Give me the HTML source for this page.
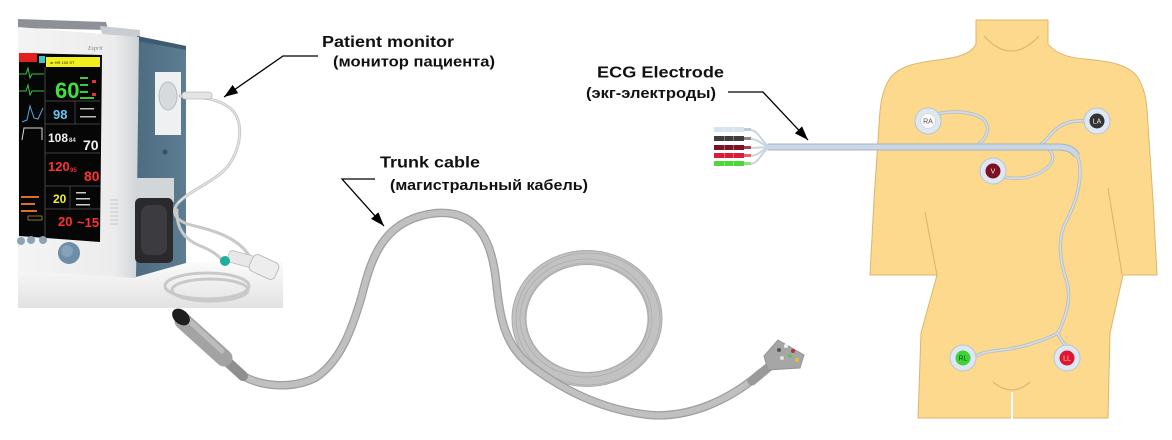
<!DOCTYPE html>
<html><head><meta charset="utf-8"><style>
html,body{margin:0;padding:0;background:#fff;}
svg{display:block;}
.lbl{font-family:"Liberation Sans",Arial,sans-serif;font-weight:bold;fill:#111;}
.scr{font-family:"Liberation Sans",Arial,sans-serif;font-weight:bold;}
.el{font-family:"Liberation Sans",Arial,sans-serif;font-size:7px;text-anchor:middle;}
</style></head><body>
<svg width="1172" height="440" viewBox="0 0 1172 440" xmlns="http://www.w3.org/2000/svg">
<defs>
<marker id="ah" viewBox="0 0 14 10" refX="14" refY="5" markerWidth="14" markerHeight="10" markerUnits="userSpaceOnUse" orient="auto"><path d="M0,0 L14,5 L0,10 Z" fill="#000"/></marker>
<linearGradient id="shad" x1="0" y1="0" x2="0" y2="1"><stop offset="0" stop-color="#fbfbfb"/><stop offset="1" stop-color="#e2e2e2"/></linearGradient>
<linearGradient id="bez" x1="0" y1="0" x2="1" y2="0"><stop offset="0" stop-color="#f4f4f4"/><stop offset="0.8" stop-color="#ececec"/><stop offset="1" stop-color="#cfd3d6"/></linearGradient>
<linearGradient id="side" x1="0" y1="0" x2="1" y2="0"><stop offset="0" stop-color="#4d6c82"/><stop offset="1" stop-color="#5d7d93"/></linearGradient>
</defs>
<rect width="1172" height="440" fill="#fff"/>

<!-- ===== Monitor photo ===== -->
<rect x="18" y="262" width="265" height="46" fill="url(#shad)"/>
<!-- handle -->
<polygon points="18,19 106,22 108,30 18,28" fill="#8d9197"/>
<polygon points="100,26 140,30 140,39 102,34" fill="#c9ccd0"/>
<!-- side panel -->
<polygon points="137,36 186,46 186,263 136,277" fill="url(#side)"/>
<polygon points="137,36 186,46 186,50 137,41" fill="#3f5b70"/>
<!-- front bezel -->
<polygon points="18,27 139,37 136,278 18,271" fill="url(#bez)"/>
<text x="88" y="50" font-family="Liberation Serif,serif" font-style="italic" font-size="6" fill="#888">Esprit</text>
<!-- screen -->
<polygon points="19,53 102,55 100,242 19,236" fill="#060606"/>
<rect x="19" y="53" width="18" height="9" fill="#e22020"/>
<rect x="39" y="56" width="6" height="7" fill="#3fc2c2"/>
<rect x="46" y="57" width="54" height="10" fill="#f2ef1e"/>
<text x="50" y="64" font-family="Liberation Sans,sans-serif" font-size="4" fill="#222">ar HR 100 ST</text>
<polyline points="19,74 26,74 28,68 30,78 32,74 44,74" fill="none" stroke="#38c838" stroke-width="1"/>
<polyline points="19,91 26,91 28,85 30,95 32,91 44,91" fill="none" stroke="#38c838" stroke-width="1"/>
<polyline points="22,122 27,120 30,106 34,118 38,119 43,108" fill="none" stroke="#58a8e8" stroke-width="1"/>
<polyline points="22,140 24,128 42,128 42,140" fill="none" stroke="#d8d8d8" stroke-width="1"/>
<line x1="45" y1="67" x2="45" y2="236" stroke="#555" stroke-width="0.8"/>
<g stroke="#555" stroke-width="0.7">
<line x1="45" y1="101" x2="100" y2="101"/><line x1="45" y1="124" x2="100" y2="124"/>
<line x1="45" y1="153" x2="100" y2="153"/><line x1="45" y1="186" x2="100" y2="186"/>
<line x1="45" y1="209" x2="100" y2="209"/><line x1="75" y1="101" x2="75" y2="124"/>
<line x1="70" y1="186" x2="70" y2="209"/>
</g>
<text class="scr" x="55" y="98" font-size="22" fill="#3ee23e">60</text>
<g fill="#3ec83e"><rect x="80" y="77" width="8" height="2"/><rect x="80" y="84" width="8" height="2"/><rect x="80" y="91" width="8" height="2"/><rect x="80" y="97" width="14" height="2"/></g>
<g fill="#e03030"><rect x="92" y="80" width="4" height="3"/><rect x="92" y="93" width="4" height="3"/></g>
<text class="scr" x="53" y="119" font-size="13" fill="#6cc4f4">98</text>
<g fill="#bbb"><rect x="80" y="108" width="14" height="1.5"/><rect x="80" y="116" width="16" height="1.5"/></g>
<text class="scr" x="48" y="142" font-size="12" fill="#f2f2f2">108</text>
<text class="scr" x="69" y="142" font-size="6" fill="#ddd">84</text>
<text class="scr" x="83" y="150" font-size="14" fill="#f2f2f2">70</text>
<text class="scr" x="48" y="171" font-size="13" fill="#ff3232">120</text>
<text class="scr" x="70" y="172" font-size="6" fill="#e03030">95</text>
<text class="scr" x="84" y="181" font-size="14" fill="#ff3232">80</text>
<text class="scr" x="53" y="203" font-size="12" fill="#f2ef38">20</text>
<g fill="#ccc"><rect x="76" y="192" width="10" height="1.5"/><rect x="76" y="198" width="14" height="1.5"/><rect x="76" y="204" width="14" height="1.5"/></g>
<text class="scr" x="58" y="226" font-size="13" fill="#ff3232">20</text>
<text class="scr" x="77" y="227" font-size="13" fill="#ff3232">~15</text>
<g fill="#d87030"><rect x="21" y="196" width="18" height="2"/><rect x="21" y="203" width="14" height="2"/><rect x="21" y="210" width="16" height="2"/></g>
<rect x="28" y="216" width="14" height="4" fill="none" stroke="#c0a030" stroke-width="0.7"/>
<!-- vents -->
<g stroke="#bbb" stroke-width="0.8"><line x1="110" y1="200" x2="118" y2="200"/><line x1="110" y1="204" x2="118" y2="204"/><line x1="110" y1="208" x2="118" y2="208"/><line x1="110" y1="212" x2="118" y2="212"/><line x1="110" y1="216" x2="118" y2="216"/><line x1="110" y1="220" x2="118" y2="220"/><line x1="110" y1="224" x2="118" y2="224"/></g>
<!-- buttons + knob -->
<circle cx="21" cy="241" r="4" fill="#8aa3b6"/><circle cx="31" cy="240" r="4" fill="#8aa3b6"/><circle cx="43" cy="240" r="4" fill="#8aa3b6"/>
<circle cx="69" cy="253" r="11" fill="#6f8ea6"/><circle cx="67" cy="251" r="6" fill="#86a2b8"/>
<!-- port -->
<rect x="155" y="72" width="26" height="63" fill="#eef0f2"/>
<ellipse cx="168" cy="96" rx="9" ry="14" fill="#d6dadd" stroke="#b8bcc0" stroke-width="1"/>
<circle cx="165" cy="152" r="2.5" fill="#3a4f60"/>
<!-- printer -->
<rect x="136" y="178" width="38" height="24" fill="#d3d6d9"/>
<rect x="135" y="198" width="38" height="65" rx="5" fill="#2a2a2d"/>
<rect x="141" y="205" width="26" height="50" rx="8" fill="#3c3c40"/>
<!-- tubes -->
<g fill="none" stroke="#c9c9c9" stroke-width="3" stroke-linecap="round">
<path d="M180,96 C200,97 222,98 234,112 C244,126 240,150 228,166 C215,182 190,190 178,203 C170,213 176,222 195,226 C220,232 240,240 250,257"/>
<path d="M177,210 C176,228 184,240 203,247 C212,251 218,255 222,260"/>
<ellipse cx="207" cy="286" rx="42" ry="13"/>
<ellipse cx="210" cy="290" rx="38" ry="11"/>
</g>
<g fill="none" stroke="#e8e8e8" stroke-width="1">
<path d="M180,96 C200,97 222,98 234,112 C244,126 240,150 228,166 C215,182 190,190 178,203"/>
</g>
<rect x="182" y="92" width="30" height="7" rx="3" fill="#e4e4e4" stroke="#bbb" stroke-width="0.8"/>
<rect x="228" y="253" width="26" height="12" rx="3" fill="#e8e8e8" stroke="#bbb" stroke-width="0.8" transform="rotate(15 241 259)"/>
<rect x="250" y="258" width="28" height="18" rx="5" fill="#ededed" stroke="#bcbcbc" stroke-width="1" transform="rotate(25 264 267)"/>
<circle cx="225" cy="261" r="5" fill="#20ad9e"/>

<!-- ===== Trunk cable ===== -->
<ellipse cx="587" cy="318.5" rx="68" ry="61" fill="none" stroke="#a9a9a9" stroke-width="15"/>
<ellipse cx="587" cy="318.5" rx="68" ry="61" fill="none" stroke="#c2c2c2" stroke-width="13"/>
<ellipse cx="588" cy="319" rx="72" ry="66" fill="none" stroke="#acacac" stroke-width="0.8"/>
<ellipse cx="586" cy="318" rx="66" ry="59" fill="none" stroke="#adadad" stroke-width="0.8"/>
<ellipse cx="587" cy="318" rx="62" ry="55" fill="none" stroke="#b0b0b0" stroke-width="0.8"/>
<path d="M240,374 C258,386 290,390 315,378 C340,362 352,330 362,295 C372,255 385,218 437,213 C480,210 492,245 496,280 C500,320 505,345 530,365 C560,388 600,410 650,415 C690,418 730,400 762,372" fill="none" stroke="#9f9f9f" stroke-width="8.5" stroke-linecap="round"/>
<path d="M240,374 C258,386 290,390 315,378 C340,362 352,330 362,295 C372,255 385,218 437,213 C480,210 492,245 496,280 C500,320 505,345 530,365 C560,388 600,410 650,415 C690,418 730,400 762,372" fill="none" stroke="#c0c0c0" stroke-width="6" stroke-linecap="round"/>
<!-- start connector -->
<path d="M220,355 L243,376" stroke="#8f8f8f" stroke-width="10" stroke-linecap="round"/>
<path d="M183,321 L224,358" stroke="#a3a3a3" stroke-width="17" stroke-linecap="round"/>
<path d="M185,317 L222,351" stroke="#bcbcbc" stroke-width="5" stroke-linecap="round"/>
<ellipse cx="181" cy="317" rx="10" ry="7" transform="rotate(40 181 317)" fill="#1e1e1e"/>
<!-- end connector -->
<path d="M752,381 L770,366" stroke="#9a9a9a" stroke-width="9" stroke-linecap="round"/>
<polygon points="778,340 804,355 800,368 768,370 764,356" fill="#a6a6a6" stroke="#949494" stroke-width="1"/>
<circle cx="779" cy="350" r="2" fill="#555"/><circle cx="786" cy="346" r="2" fill="#e8f4f0"/><circle cx="793" cy="351" r="2" fill="#c03030"/>
<circle cx="782" cy="358" r="2" fill="#e0e0e0"/><circle cx="790" cy="356" r="2" fill="#60c060"/><circle cx="797" cy="360" r="2" fill="#e0c030"/>

<!-- ===== Body ===== -->
<path d="M976,20 L1048,20 L1048,44 C1056,54 1070,58 1085,59 C1105,61 1125,63 1136,75 C1146,88 1147,105 1148,125 L1153,200 L1157,275 L1123,275 L1110,333 L1108,418 L918,418 L921,333 L937,275 L870,275 L874,200 L879,125 C880,105 882,90 890,78 C902,63 925,62 945,59 C960,57 972,53 976,44 Z" fill="#fcd98c" stroke="#dcb66a" stroke-width="1"/>
<path d="M984,36 Q1011,66 1039,36" fill="none" stroke="#d9b366" stroke-width="1"/>
<path d="M993,382 Q1012,398 1030,382" fill="none" stroke="#d9b366" stroke-width="1"/>
<line x1="1012" y1="392" x2="1012" y2="419" stroke="#fff" stroke-width="2"/>
<line x1="925" y1="212" x2="937" y2="275" stroke="#d9b366" stroke-width="1"/>
<line x1="1108" y1="188" x2="1122" y2="274" stroke="#d9b366" stroke-width="1"/>

<!-- ===== ECG lead set ===== -->
<g fill="none" stroke-linecap="round">
<path d="M750,130 C760,130 762,146 772,147" stroke="#c9d4de" stroke-width="2"/>
<path d="M750,139 C760,139 763,147 772,147" stroke="#c9d4de" stroke-width="2"/>
<path d="M750,148 L772,147" stroke="#c9d4de" stroke-width="2"/>
<path d="M750,156 C760,156 763,147 772,147" stroke="#c9d4de" stroke-width="2"/>
<path d="M750,164 C760,164 762,148 772,147" stroke="#c9d4de" stroke-width="2"/>
</g>
<g>
<rect x="714" y="127" width="30" height="5" fill="#d6e3f0"/><rect x="744" y="128" width="7" height="3" fill="#c0ccd8"/>
<rect x="714" y="136" width="30" height="5" fill="#3d3d3d"/><rect x="744" y="137" width="7" height="3" fill="#888"/>
<rect x="714" y="145" width="30" height="5" fill="#7a1424"/><rect x="744" y="146" width="7" height="3" fill="#a04050"/>
<rect x="714" y="153" width="30" height="5" fill="#da1c36"/><rect x="744" y="154" width="7" height="3" fill="#e86070"/>
<rect x="714" y="161" width="30" height="5" fill="#4fd63a"/><rect x="744" y="162" width="7" height="3" fill="#90e080"/>
<g fill="#fff" opacity="0.35"><rect x="724" y="127" width="1" height="39"/><rect x="733" y="127" width="1" height="39"/></g>
</g>
<!-- body wires -->
<g fill="none" stroke-linecap="round">
<g stroke="#b4bec6" stroke-width="3.4">
<path d="M937,114 C955,110 975,112 984,120 C992,130 985,140 976,146"/>
<path d="M1084,121 C1070,120 1060,124 1052,133 C1046,140 1042,144 1038,147"/>
<path d="M1004,177 C1018,180 1035,178 1047,168 C1056,160 1053,152 1047,148"/>
<path d="M1060,147 C1075,147 1080,155 1080,172 C1080,192 1073,208 1064,226 C1058,242 1060,262 1067,282 C1072,302 1064,320 1058,333 C1060,340 1063,342 1066,345"/>
<path d="M1058,333 C1045,340 1030,345 1010,349 C995,351 985,351 976,356"/>
</g>
<g stroke="#d4dce2" stroke-width="1.8">
<path d="M937,114 C955,110 975,112 984,120 C992,130 985,140 976,146"/>
<path d="M1084,121 C1070,120 1060,124 1052,133 C1046,140 1042,144 1038,147"/>
<path d="M1004,177 C1018,180 1035,178 1047,168 C1056,160 1053,152 1047,148"/>
<path d="M1060,147 C1075,147 1080,155 1080,172 C1080,192 1073,208 1064,226 C1058,242 1060,262 1067,282 C1072,302 1064,320 1058,333 C1060,340 1063,342 1066,345"/>
<path d="M1058,333 C1045,340 1030,345 1010,349 C995,351 985,351 976,356"/>
</g>
</g>
<!-- main band -->
<path d="M768,147 L1058,147 C1068,147 1074,150 1077,156" fill="none" stroke="#a3b5c6" stroke-width="7"/>
<path d="M768,147 L1058,147 C1068,147 1074,150 1077,156" fill="none" stroke="#cad8e6" stroke-width="5"/>
<!-- electrodes -->
<g stroke="#b5c6d6" stroke-width="1" fill="#dfe8f2">
<circle cx="928" cy="121" r="13"/><circle cx="1097" cy="121" r="13"/><circle cx="993" cy="171" r="13"/><circle cx="963" cy="358" r="13"/><circle cx="1067" cy="358" r="13"/>
</g>
<circle cx="928" cy="121" r="7.5" fill="#fafafa" stroke="#ccc" stroke-width="0.6"/>
<text class="el" x="928" y="123.5" fill="#555">RA</text>
<circle cx="1097" cy="121" r="7.5" fill="#333"/>
<text class="el" x="1097" y="123.5" fill="#eee">LA</text>
<circle cx="993" cy="171" r="7.5" fill="#7b1122"/>
<text class="el" x="993" y="173.5" fill="#eee">V</text>
<circle cx="963" cy="358" r="7.5" fill="#3fd33a"/>
<text class="el" x="963" y="360.5" fill="#1a4a1a">RL</text>
<circle cx="1067" cy="358" r="7.5" fill="#e0162e"/>
<text class="el" x="1067" y="360.5" fill="#f8d0d0">LL</text>

<!-- ===== Labels & leaders ===== -->
<g stroke="#000" stroke-width="1.3" fill="none">
<path d="M318,56 L283,56 L224,97" marker-end="url(#ah)"/>
<path d="M375,179 L342,179 L384,226" marker-end="url(#ah)"/>
<path d="M728,92 L763,92 L808,140" marker-end="url(#ah)"/>
</g>
<text class="lbl" x="322" y="47" font-size="16" textLength="132" lengthAdjust="spacingAndGlyphs">Patient monitor</text>
<text class="lbl" x="333" y="66.5" font-size="15" textLength="162" lengthAdjust="spacingAndGlyphs">(монитор пациента)</text>
<text class="lbl" x="380" y="167.5" font-size="16" textLength="100" lengthAdjust="spacingAndGlyphs">Trunk cable</text>
<text class="lbl" x="390" y="190" font-size="15" textLength="198" lengthAdjust="spacingAndGlyphs">(магистральный кабель)</text>
<text class="lbl" x="597" y="77.5" font-size="16" textLength="127" lengthAdjust="spacingAndGlyphs">ECG Electrode</text>
<text class="lbl" x="586" y="98" font-size="15" textLength="130" lengthAdjust="spacingAndGlyphs">(экг-электроды)</text>
</svg>
</body></html>
